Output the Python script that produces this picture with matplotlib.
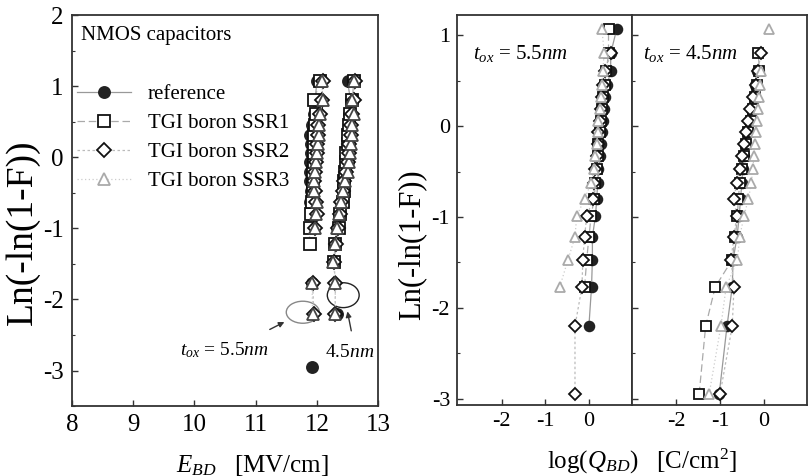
import numpy as np
import matplotlib
matplotlib.use('Agg')
import matplotlib.pyplot as plt
from matplotlib.patches import Ellipse
from matplotlib.lines import Line2D
from matplotlib.ticker import MultipleLocator

plt.rcParams['font.family'] = ['Liberation Serif', 'DejaVu Serif']
plt.rcParams['mathtext.fontset'] = 'custom'
plt.rcParams['mathtext.rm'] = 'Liberation Serif'
plt.rcParams['mathtext.it'] = 'Liberation Serif:italic'
plt.rcParams['axes.unicode_minus'] = False

nan = np.nan
# Weibull levels Ln(-ln(1-F))
LEVELS = [-2.95, -2.2, -1.77, -1.47, -1.22, -0.99, -0.8, -0.63, -0.47, -0.33,
          -0.2, -0.07, 0.06, 0.19, 0.32, 0.45, 0.61, 0.8, 1.07]

SERIES = ['reference', 'TGI boron SSR1', 'TGI boron SSR2', 'TGI boron SSR3']

# Left panel: E_BD [MV/cm]
EBD_55_ref = [11.92, nan, 11.92, nan, nan, 11.9, 11.9, 11.89, 11.9, 11.89, 11.88, 11.88, 11.9, 11.9, 11.88, 11.92, 11.95, 11.97, 12.0]
EBD_55_ssr1 = [nan, nan, nan, nan, 11.88, 11.88, 11.9, 11.92, 11.93, 11.93, 11.94, 11.95, 11.95, 11.96, 11.96, 11.97, 11.98, 11.95, 12.05]
EBD_55_ssr2 = [nan, 11.95, 11.93, nan, nan, 11.97, 12.0, 11.98, 11.97, 11.96, 11.97, 11.98, 12.0, 12.0, 12.01, 12.02, 12.05, 12.08, 12.1]
EBD_55_ssr3 = [nan, 11.93, 11.92, nan, nan, 11.97, 11.99, 12.0, 11.96, 11.95, 11.97, 11.98, 12.0, 12.02, 12.03, 12.04, 12.05, 12.1, 12.08]

EBD_45_ref = [nan, 12.33, nan, 12.28, 12.3, 12.33, 12.38, 12.4, 12.43, 12.45, 12.47, 12.5, 12.5, 12.52, 12.5, 12.52, 12.53, 12.55, 12.5]
EBD_45_ssr1 = [nan, nan, nan, 12.28, 12.3, 12.36, 12.38, 12.42, 12.44, 12.45, 12.46, 12.47, 12.48, 12.5, 12.5, 12.52, 12.54, 12.58, 12.6]
EBD_45_ssr2 = [nan, 12.3, 12.3, 12.28, 12.32, 12.35, 12.38, 12.4, 12.43, 12.45, 12.48, 12.5, 12.52, 12.53, 12.55, 12.56, 12.57, 12.6, 12.62]
EBD_45_ssr3 = [nan, 12.3, 12.3, 12.27, 12.3, 12.33, 12.36, 12.4, 12.43, 12.46, 12.5, 12.52, 12.54, 12.55, 12.57, 12.58, 12.6, 12.58, 12.6]

# Right panels: log(Q_BD) [C/cm^2]
QBD_55_ref = [nan, 0.0, 0.06, 0.08, 0.08, 0.15, 0.18, 0.2, 0.22, 0.25, 0.27, 0.3, 0.32, 0.35, 0.38, 0.42, 0.5, 0.5, 0.64]
QBD_55_ssr1 = [nan, nan, -0.1, -0.05, 0.0, 0.05, 0.12, 0.15, 0.18, 0.2, 0.22, 0.25, 0.27, 0.3, 0.33, 0.36, 0.4, 0.45, 0.45]
QBD_55_ssr2 = [-0.32, -0.32, -0.16, -0.14, -0.1, -0.05, 0.1, 0.12, 0.15, 0.18, 0.2, 0.22, 0.25, 0.27, 0.3, 0.33, 0.38, 0.5, nan]
QBD_55_ssr3 = [nan, nan, -0.67, -0.48, -0.32, -0.28, -0.1, 0.05, 0.12, 0.15, 0.18, 0.2, 0.22, 0.25, 0.28, 0.3, 0.32, 0.35, 0.3]

QBD_45_ref = [-1.02, -0.84, -0.72, -0.7, -0.61, -0.56, -0.53, -0.5, -0.48, -0.45, -0.42, -0.38, -0.34, -0.28, -0.23, -0.2, -0.15, nan, nan]
QBD_45_ssr1 = [-1.48, -1.33, -1.11, -0.72, -0.65, -0.6, -0.58, -0.55, -0.5, -0.45, -0.4, -0.35, -0.3, -0.25, -0.2, -0.15, -0.1, -0.12, nan]
QBD_45_ssr2 = [-1.0, -0.72, -0.68, -0.75, -0.68, -0.62, -0.68, -0.62, -0.55, -0.5, -0.45, -0.4, -0.36, -0.32, -0.25, -0.18, -0.14, -0.05, nan]
QBD_45_ssr3 = [-1.25, -0.98, -0.86, -0.6, -0.55, -0.45, -0.35, -0.28, -0.25, -0.22, -0.2, -0.18, -0.15, -0.12, -0.1, -0.08, -0.05, nan, 0.12]

STY = {
    'reference': dict(marker='o', mfc='#222222', mec='#222222', color='#999999', ls='-'),
    'TGI boron SSR1': dict(marker='s', mfc='white', mec='#111111', color='#aaaaaa', ls=(0, (6, 3))),
    'TGI boron SSR2': dict(marker='D', mfc='white', mec='#111111', color='#bbbbbb', ls=(0, (2, 2)), ms_scale=0.85),
    'TGI boron SSR3': dict(marker='^', mfc='white', mec='#aaaaaa', color='#cccccc', ls=(0, (1, 2))),
}

def draw(ax, xs, name, ms=7, mec=None):
    s = dict(STY[name])
    scale = s.pop('ms_scale', 1.0)
    if mec is not None:
        s['mec'] = mec
    ax.plot(xs, LEVELS, lw=0.9, ms=ms * scale, mew=1.3, **s)

fig = plt.figure(figsize=(8.08, 4.76), dpi=100)
axL = fig.add_axes([0.089, 0.147, 0.379, 0.821])
axA = fig.add_axes([0.5656, 0.149, 0.2166, 0.819])
axB = fig.add_axes([0.7822, 0.149, 0.2168, 0.819])

for ax in (axL, axA, axB):
    for sp in ax.spines.values():
        sp.set_linewidth(1.3)
        sp.set_color('#333333')
    ax.tick_params(direction='in', length=4, width=1, color='#333333')
    ax.tick_params(which='minor', direction='in', length=2.5, width=0.8, color='#333333')
    ax.yaxis.set_minor_locator(MultipleLocator(0.5))

# Left panel
for xs, name in zip([EBD_55_ref, EBD_55_ssr1, EBD_55_ssr2, EBD_55_ssr3], SERIES):
    draw(axL, xs, name, ms=8, mec='#444444' if name == 'TGI boron SSR3' else None)
for xs, name in zip([EBD_45_ref, EBD_45_ssr1, EBD_45_ssr2, EBD_45_ssr3], SERIES):
    draw(axL, xs, name, ms=8, mec='#444444' if name == 'TGI boron SSR3' else None)
axL.set_xlim(8, 13)
axL.set_ylim(-3.5, 2)
axL.set_xticks([8, 9, 10, 11, 12, 13])
axL.set_yticks([-3, -2, -1, 0, 1, 2])
axL.tick_params(labelsize=18, pad=6)
axL.text(8.15, 1.72, 'NMOS capacitors', fontsize=15, va='center')

handles = []
for name in SERIES:
    s = dict(STY[name])
    scale = s.pop('ms_scale', 1.0)
    handles.append(Line2D([], [], lw=0.9, ms=8 * scale, mew=1.3, **s))
axL.legend(handles, SERIES, loc='upper left', bbox_to_anchor=(-0.025, 0.855), frameon=False,
           fontsize=15, handlelength=2.6, handletextpad=0.8, labelspacing=0.45,
           borderaxespad=0.2)

axL.add_patch(Ellipse((11.77, -2.18), 0.54, 0.31, fill=False, ec='#888888', lw=1.0))
axL.add_patch(Ellipse((12.43, -1.94), 0.52, 0.35, fill=False, ec='#222222', lw=1.0))
axL.annotate('', xy=(11.51, -2.3), xytext=(11.19, -2.44),
             arrowprops=dict(arrowstyle='-|>', color='#333333', lw=1.0, mutation_scale=8))
axL.annotate('', xy=(12.49, -2.13), xytext=(12.57, -2.48),
             arrowprops=dict(arrowstyle='-|>', color='#333333', lw=1.0, mutation_scale=8))
axL.text(9.76, -2.72, r'$t_{ox}$ = 5.5$nm$', fontsize=14, va='center')
axL.text(12.13, -2.75, r'4.5$nm$', fontsize=14, va='center')

# Right panels
for xs, name in zip([QBD_55_ref, QBD_55_ssr1, QBD_55_ssr2, QBD_55_ssr3], SERIES):
    draw(axA, xs, name, ms=7)
for xs, name in zip([QBD_45_ref, QBD_45_ssr1, QBD_45_ssr2, QBD_45_ssr3], SERIES):
    draw(axB, xs, name, ms=7)
for ax in (axA, axB):
    ax.set_ylim(-3.07, 1.22)
    ax.set_yticks([-3, -2, -1, 0, 1])
    ax.set_xticks([-2, -1, 0])
    ax.tick_params(labelsize=16, pad=5)
axA.set_xlim(-3.03, 0.99)
axB.set_xlim(-3.02, 1.0)
axB.tick_params(labelleft=False)
axA.text(-2.67, 0.8, r'$t_{ox}$ = 5.5$nm$', fontsize=15, va='center')
axB.text(-2.77, 0.8, r'$t_{ox}$ = 4.5$nm$', fontsize=15, va='center')

fig.text(23 / 808, 0.513, 'Ln(-ln(1-F))', rotation=90, fontsize=27, ha='center', va='center')
fig.text(412 / 808, 0.485, 'Ln(-ln(1-F))', rotation=90, fontsize=22, ha='center', va='center')
fig.text(252 / 808, 0.023, r'$E_{BD}$   [MV/cm]', fontsize=18, ha='center', va='center')
fig.text(642 / 808, 0.03, r'log($Q_{BD}$)   [C/cm$^2$]', fontsize=18, ha='center', va='center')

fig.savefig('out.png', dpi=100, facecolor='white')
